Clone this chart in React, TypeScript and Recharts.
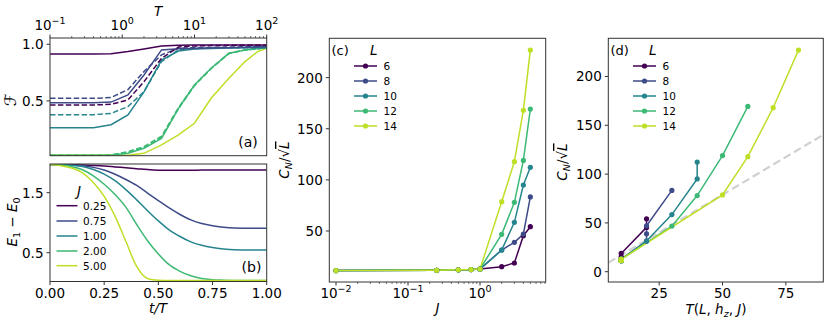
import React from 'react';
import { LineChart, Line, XAxis, YAxis } from 'recharts';

const FONT = '"DejaVu Sans", Verdana, sans-serif';
const AXIS_COLOR = '#333333';
const TICK_FS = 13.5;
const LEG_FS = 10.5;
const VIRIDIS = ['#440154', '#3e4b89', '#25848d', '#3cb975', '#bddf26'];

// ---------- Panel (a): fidelity F vs T (log) ----------
const A_T = [0.1, 0.4, 0.7, 1.2, 2, 3.5, 6, 10, 17, 30, 50, 75, 100];
const A_S025 = [0.915, 0.915, 0.916, 0.935, 0.958, 0.985, 0.992, 0.993, 0.993, 0.993, 0.993, 0.993, 0.993];
const A_D025 = [0.464, 0.464, 0.47, 0.509, 0.67, 0.876, 0.975, 0.985, 0.988, 0.99, 0.99, 0.99, 0.99];
const A_S075 = [0.485, 0.485, 0.49, 0.553, 0.729, 0.95, 0.96, 0.963, 0.966, 0.97, 0.974, 0.977, 0.98];
const A_D075 = [0.523, 0.523, 0.53, 0.6, 0.76, 0.906, 0.965, 0.97, 0.972, 0.975, 0.977, 0.978, 0.98];
const A_S100 = [0.264, 0.264, 0.29, 0.376, 0.58, 0.86, 0.94, 0.958, 0.963, 0.966, 0.968, 0.97, 0.97];
const A_D100 = [0.379, 0.379, 0.39, 0.45, 0.582, 0.847, 0.95, 0.963, 0.966, 0.968, 0.97, 0.97, 0.97];
const A_S200 = [0.02, 0.02, 0.022, 0.038, 0.082, 0.17, 0.435, 0.64, 0.788, 0.92, 0.95, 0.96, 0.97];
const A_D200 = [0.02, 0.02, 0.025, 0.053, 0.097, 0.19, 0.44, 0.64, 0.788, 0.92, 0.95, 0.96, 0.97];
const A_S500 = [0.02, 0.02, 0.02, 0.022, 0.038, 0.112, 0.2, 0.303, 0.524, 0.7, 0.847, 0.935, 0.965];
const A_D500 = [0.02, 0.02, 0.023, 0.045, 0.088, 0.178, 0.43, 0.635, 0.785, 0.918, 0.95, 0.96, 0.97];
const A_MAJOR = [0.1, 1, 10, 100];
const A_Y_TICKS = [0.5, 1.0];

// ---------- Panel (b): gap E1-E0 vs t/T ----------
const B_T = [0, 0.05, 0.1, 0.15, 0.2, 0.25, 0.3, 0.35, 0.4, 0.45, 0.5, 0.55, 0.6, 0.65, 0.7, 0.75, 0.8, 0.85, 0.9, 0.95, 1.0];
const B_J025 = [1.97, 1.97, 1.968, 1.963, 1.955, 1.945, 1.93, 1.915, 1.9, 1.885, 1.875, 1.872, 1.872, 1.874, 1.876, 1.877, 1.877, 1.877, 1.876, 1.876, 1.876];
const B_J075 = [1.97, 1.968, 1.962, 1.948, 1.922, 1.877, 1.807, 1.72, 1.62, 1.494, 1.368, 1.245, 1.137, 1.046, 0.985, 0.948, 0.925, 0.911, 0.908, 0.907, 0.906];
const B_J100 = [1.97, 1.967, 1.955, 1.935, 1.885, 1.81, 1.7, 1.55, 1.38, 1.2, 1.03, 0.88, 0.77, 0.68, 0.623, 0.585, 0.562, 0.548, 0.545, 0.544, 0.544];
const B_J200 = [1.97, 1.965, 1.935, 1.882, 1.78, 1.64, 1.47, 1.26, 0.97, 0.7, 0.48, 0.3, 0.19, 0.115, 0.07, 0.05, 0.042, 0.038, 0.036, 0.035, 0.035];
const B_J500 = [1.97, 1.95, 1.91, 1.83, 1.67, 1.44, 1.11, 0.69, 0.27, 0.07, 0.04, 0.035, 0.035, 0.035, 0.035, 0.035, 0.035, 0.035, 0.035, 0.035, 0.035];
const B_X_TICKS = [0, 0.25, 0.5, 0.75, 1.0];
const B_Y_TICKS = [0.5, 1.5];
const J_LABELS = ['0.25', '0.75', '1.00', '2.00', '5.00'];

// ---------- Panel (c): C_N/sqrt(L) vs J ----------
const C_J = [0.01, 0.25, 0.5, 0.75, 1, 2, 3, 4, 5];
const C_L6 = [11.3, 11.6, 12.0, 12.3, 12.8, 15.1, 18.7, 45.4, 54.2];
const C_L8 = [11.3, 11.6, 12.0, 12.3, 12.8, 31.4, 38.9, 47.0, 83.3];
const C_L10 = [11.3, 11.6, 12.0, 12.3, 12.8, 31.4, 58.5, 95.0, 112.3];
const C_L12 = [11.3, 11.6, 12.0, 12.3, 12.8, 46.7, 78.0, 119.0, 169.3];
const C_L14 = [11.3, 11.6, 12.0, 12.3, 12.8, 78.7, 117.8, 168.0, 227.0];
const C_MAJOR = [0.01, 0.1, 1];
const C_Y_TICKS = [50, 100, 150, 200];
const L_LABELS = ['6', '8', '10', '12', '14'];

// ---------- Panel (d): C_N/sqrt(L) vs T(L,hz,J) ----------
const D_T_L6 = [10, 10, 10, 10, 10, 10, 10, 20, 20];
const D_T_L8 = [10, 10, 10, 10, 10, 20, 20, 20, 30];
const D_T_L10 = [10, 10, 10, 10, 10, 20, 30, 40, 40];
const D_T_L12 = [10, 10, 10, 10, 10, 30, 40, 50, 60];
const D_T_L14 = [10, 10, 10, 10, 10, 50, 60, 70, 80];
const D_GUIDE_T = [4.9, 89.8];
const D_GUIDE_Y = [9.2, 140.3];
const D_X_TICKS = [25, 50, 75];
const D_Y_TICKS = [0, 50, 100, 150, 200];

// ---------- derived tables ----------
const aData = A_T.map((T, i) => ({
  T, s025: A_S025[i], d025: A_D025[i], s075: A_S075[i], d075: A_D075[i],
  s100: A_S100[i], d100: A_D100[i], s200: A_S200[i], d200: A_D200[i], s500: A_S500[i], d500: A_D500[i],
}));
const bData = B_T.map((t, i) => ({ t, j0: B_J025[i], j1: B_J075[i], j2: B_J100[i], j3: B_J200[i], j4: B_J500[i] }));
const cData = C_J.map((J, i) => ({ J, l0: C_L6[i], l1: C_L8[i], l2: C_L10[i], l3: C_L12[i], l4: C_L14[i] }));
const C_SERIES = [C_L6, C_L8, C_L10, C_L12, C_L14];
const D_TS = [D_T_L6, D_T_L8, D_T_L10, D_T_L12, D_T_L14];
const dSeries = D_TS.map((ts, k) => ts.map((T, i) => ({ T, v: C_SERIES[k][i] })));
const dGuide = D_GUIDE_T.map((T, i) => ({ T, v: D_GUIDE_Y[i] }));

const logTicks = (majors: number[], maxV: number) => {
  const out: number[] = [];
  majors.forEach((m) => {
    for (let k = 1; k <= 9; k++) {
      const v = +(m * k).toPrecision(6);
      if (v <= maxV) out.push(v);
    }
  });
  return out;
};
const A_TICKS = logTicks(A_MAJOR, 100);
const C_TICKS = logTicks(C_MAJOR, 8);

const supText = (e: number) => (e < 0 ? '\u2212' + Math.abs(e) : String(e));
const isMajorLog = (v: number) => {
  const lg = Math.log10(v);
  return Math.abs(lg - Math.round(lg)) < 1e-6;
};

const LogTick = (props: any) => {
  const { x, y, payload, orient } = props;
  const v = payload.value;
  const major = isMajorLog(v);
  const dir = orient === 'top' ? -1 : 1;
  const len = major ? 3.5 : 2;
  const e = Math.round(Math.log10(v));
  return (
    <g>
      <line x1={x} x2={x} y1={y} y2={y + dir * len} stroke={AXIS_COLOR} strokeWidth={major ? 1 : 0.7} />
      {major && (
        <text x={x} y={orient === 'top' ? y - 8 : y + 16.3} textAnchor="middle" fontFamily={FONT} fontSize={TICK_FS} fill="#000">
          10<tspan dy={-6} fontSize={9.5}>{supText(e)}</tspan>
        </text>
      )}
    </g>
  );
};

const BottomTick = (props: any) => {
  const { x, y, payload, fmt } = props;
  return (
    <g>
      <line x1={x} x2={x} y1={y} y2={y + 3.5} stroke={AXIS_COLOR} strokeWidth={1} />
      <text x={x} y={y + 16} textAnchor="middle" fontFamily={FONT} fontSize={TICK_FS} fill="#000">
        {fmt(payload.value)}
      </text>
    </g>
  );
};

const LeftTick = (props: any) => {
  const { x, y, payload, fmt } = props;
  return (
    <g>
      <line x1={x - 3.5} x2={x} y1={y} y2={y} stroke={AXIS_COLOR} strokeWidth={1} />
      <text x={x - 6.5} y={y + 4.9} textAnchor="end" fontFamily={FONT} fontSize={TICK_FS} fill="#000">
        {fmt(payload.value)}
      </text>
    </g>
  );
};

const f1 = (v: number) => v.toFixed(1);
const f2 = (v: number) => v.toFixed(2);
const f0 = (v: number) => String(Math.round(v));

const lineProps = { isAnimationActive: false, dot: false, strokeWidth: 1.5 } as const;
const DASH = '5.5 2.4';

const abs = (left: number, top: number): React.CSSProperties => ({ position: 'absolute', left, top });

const PanelA = () => (
  <div style={abs(0, 0)}>
    <LineChart width={290} height={160} data={aData} margin={{ top: 0, right: 23.3, bottom: 4.3, left: 0 }}>
      <XAxis dataKey="T" type="number" scale="log" domain={[0.1, 100]} allowDataOverflow orientation="top" height={38}
        ticks={A_TICKS} interval={0} tickSize={0} tickMargin={0} axisLine={false} tickLine={false}
        tick={(p: any) => <LogTick {...p} orient="top" />} />
      <YAxis type="number" domain={[0.017, 1.055]} allowDataOverflow width={50} ticks={A_Y_TICKS} interval={0}
        tickSize={0} tickMargin={0} axisLine={false} tickLine={false} tick={(p: any) => <LeftTick {...p} fmt={f1} />} />
      <Line {...lineProps} type="linear" dataKey="d500" stroke={VIRIDIS[3]} strokeDasharray={DASH} />
      <Line {...lineProps} type="linear" dataKey="d200" stroke={VIRIDIS[3]} strokeDasharray={DASH} />
      <Line {...lineProps} type="linear" dataKey="s500" stroke={VIRIDIS[4]} />
      <Line {...lineProps} type="linear" dataKey="s200" stroke={VIRIDIS[3]} />
      <Line {...lineProps} type="linear" dataKey="d100" stroke={VIRIDIS[2]} strokeDasharray={DASH} />
      <Line {...lineProps} type="linear" dataKey="s100" stroke={VIRIDIS[2]} />
      <Line {...lineProps} type="linear" dataKey="d075" stroke={VIRIDIS[1]} strokeDasharray={DASH} />
      <Line {...lineProps} type="linear" dataKey="s075" stroke={VIRIDIS[1]} />
      <Line {...lineProps} type="linear" dataKey="d025" stroke={VIRIDIS[0]} strokeDasharray={DASH} />
      <Line {...lineProps} type="linear" dataKey="s025" stroke={VIRIDIS[0]} />
    </LineChart>
  </div>
);

const PanelB = () => (
  <div style={abs(0, 160)}>
    <LineChart width={290} height={164} data={bData} margin={{ top: 4, right: 23.3, bottom: 0, left: 0 }}>
      <XAxis dataKey="t" type="number" domain={[0, 1]} allowDataOverflow height={42.5} ticks={B_X_TICKS} interval={0}
        tickSize={0} tickMargin={0} axisLine={false} tickLine={false} tick={(p: any) => <BottomTick {...p} fmt={f2} />} />
      <YAxis type="number" domain={[0.02, 1.978]} allowDataOverflow width={50} ticks={B_Y_TICKS} interval={0}
        tickSize={0} tickMargin={0} axisLine={false} tickLine={false} tick={(p: any) => <LeftTick {...p} fmt={f1} />} />
      {['j0', 'j1', 'j2', 'j3', 'j4'].map((k, i) => (
        <Line key={k} {...lineProps} type="monotone" dataKey={k} stroke={VIRIDIS[i]} />
      ))}
    </LineChart>
  </div>
);

const dotFor = (c: string) => ({ r: 2.6, fill: c, stroke: c, strokeWidth: 0 });

const PanelC = () => (
  <div style={abs(280, 0)}>
    <LineChart width={280} height={324} data={cData} margin={{ top: 38.3, right: 14.3, bottom: 0, left: 0 }}>
      <XAxis dataKey="J" type="number" scale="log" domain={[0.00807, 8.17]} allowDataOverflow height={42} ticks={C_TICKS}
        interval={0} tickSize={0} tickMargin={0} axisLine={false} tickLine={false}
        tick={(p: any) => <LogTick {...p} orient="bottom" />} />
      <YAxis type="number" domain={[0.1, 238.5]} allowDataOverflow width={49.3} ticks={C_Y_TICKS} interval={0}
        tickSize={0} tickMargin={0} axisLine={false} tickLine={false} tick={(p: any) => <LeftTick {...p} fmt={f0} />} />
      {['l0', 'l1', 'l2', 'l3', 'l4'].map((k, i) => (
        <Line key={k} isAnimationActive={false} type="linear" dataKey={k} stroke={VIRIDIS[i]} strokeWidth={1.5} dot={dotFor(VIRIDIS[i])} />
      ))}
    </LineChart>
  </div>
);

const PanelD = () => (
  <div style={abs(560, 0)}>
    <LineChart width={270} height={324} margin={{ top: 38.3, right: 6.7, bottom: 0, left: 0 }}>
      <XAxis dataKey="T" type="number" domain={[4.9, 89.8]} allowDataOverflow height={42} ticks={D_X_TICKS} interval={0}
        tickSize={0} tickMargin={0} axisLine={false} tickLine={false} tick={(p: any) => <BottomTick {...p} fmt={f0} />} />
      <YAxis type="number" domain={[-10.55, 239.1]} allowDataOverflow width={48.3} ticks={D_Y_TICKS} interval={0}
        tickSize={0} tickMargin={0} axisLine={false} tickLine={false} tick={(p: any) => <LeftTick {...p} fmt={f0} />} />
      <Line isAnimationActive={false} data={dGuide} type="linear" dataKey="v" stroke="#d0d0d0" strokeWidth={2.2}
        strokeDasharray="8 4" dot={false} />
      {dSeries.map((s, i) => (
        <Line key={i} data={s} isAnimationActive={false} type="linear" dataKey="v" stroke={VIRIDIS[i]} strokeWidth={1.5}
          dot={dotFor(VIRIDIS[i])} />
      ))}
    </LineChart>
  </div>
);

const T_ITAL: React.SVGProps<SVGTextElement> = { fontFamily: FONT, fontStyle: 'italic', fontSize: TICK_FS, fill: '#000' };
const T_NORM: React.SVGProps<SVGTextElement> = { fontFamily: FONT, fontSize: TICK_FS, fill: '#000' };

const Overlay = () => {
  const legY = [66, 81, 96, 111, 126];
  const bLegY = [205.7, 221, 236, 251, 265.7];
  return (
    <svg width={830} height={324} style={{ position: 'absolute', left: 0, top: 0, pointerEvents: 'none' }}>
      {/* frames */}
      <rect x={50} y={38} width={216.7} height={117.7} fill="none" stroke={AXIS_COLOR} strokeWidth={1} />
      <rect x={50} y={164} width={216.7} height={117.5} fill="none" stroke={AXIS_COLOR} strokeWidth={1} />
      <rect x={329.3} y={38.3} width={216.4} height={243.7} fill="none" stroke={AXIS_COLOR} strokeWidth={1} />
      <rect x={608.3} y={38.3} width={215} height={243.7} fill="none" stroke={AXIS_COLOR} strokeWidth={1} />

      {/* axis titles */}
      <text x={158} y={16} textAnchor="middle" {...T_ITAL}>T</text>
      <text x={16} y={100} textAnchor="middle" transform="rotate(-90 16 100)" {...T_NORM} fontSize={16}>ℱ</text>
      <text x={17} y={222} textAnchor="middle" transform="rotate(-90 17 222)" {...T_NORM}>
        <tspan fontStyle="italic">E</tspan><tspan dy={3} fontSize={9.5}>1</tspan><tspan dy={-3}> − </tspan>
        <tspan fontStyle="italic">E</tspan><tspan dy={3} fontSize={9.5}>0</tspan>
      </text>
      <text x={158} y={312.5} textAnchor="middle" {...T_ITAL}>t/T</text>
      <text x={437.5} y={313} textAnchor="middle" {...T_ITAL}>J</text>
      <text x={716} y={313.5} textAnchor="middle" {...T_ITAL}>
        T<tspan fontStyle="normal">(</tspan>L<tspan fontStyle="normal">, </tspan>h<tspan dy={3} fontSize={9.5}>z</tspan>
        <tspan dy={-3} fontStyle="normal">, </tspan>J<tspan fontStyle="normal">)</tspan>
      </text>
      {[{ x: 289, y: 160 }, { x: 567, y: 162 }].map((p, i) => (
        <text key={i} x={p.x} y={p.y} textAnchor="middle" transform={`rotate(-90 ${p.x} ${p.y})`} {...T_NORM}>
          <tspan fontStyle="italic">C</tspan><tspan dy={3} fontSize={9.5} fontStyle="italic">N</tspan>
          <tspan dy={-3}>/√</tspan><tspan fontStyle="italic" textDecoration="overline">L</tspan>
        </text>
      ))}

      {/* panel letters */}
      <text x={248} y={147} textAnchor="middle" {...T_NORM} fontSize={14}>(a)</text>
      <text x={251.5} y={272} textAnchor="middle" {...T_NORM} fontSize={14}>(b)</text>
      <text x={331.5} y={54.5} {...T_NORM} fontSize={13}>(c)</text>
      <text x={610.5} y={54.5} {...T_NORM} fontSize={13}>(d)</text>

      {/* legend (b) */}
      <text x={77} y={196} {...T_ITAL}>J</text>
      {J_LABELS.map((lab, i) => (
        <g key={lab}>
          <line x1={56.5} x2={77.5} y1={bLegY[i]} y2={bLegY[i]} stroke={VIRIDIS[i]} strokeWidth={1.5} />
          <text x={83} y={bLegY[i] + 3.8} fontFamily={FONT} fontSize={LEG_FS} fill="#000">{lab}</text>
        </g>
      ))}

      {/* legends (c), (d) */}
      {[{ x0: 354, t: 370 }, { x0: 633, t: 649 }].map((lg, j) => (
        <g key={j}>
          <text x={lg.t} y={54.5} {...T_ITAL}>L</text>
          {L_LABELS.map((lab, i) => (
            <g key={lab}>
              <line x1={lg.x0} x2={lg.x0 + 23} y1={legY[i]} y2={legY[i]} stroke={VIRIDIS[i]} strokeWidth={1.5} />
              <circle cx={lg.x0 + 11.5} cy={legY[i]} r={2.6} fill={VIRIDIS[i]} />
              <text x={lg.x0 + 29.5} y={legY[i] + 3.8} fontFamily={FONT} fontSize={LEG_FS} fill="#000">{lab}</text>
            </g>
          ))}
        </g>
      ))}
    </svg>
  );
};

export default function App() {
  return (
    <div style={{ position: 'absolute', left: 0, top: 0, width: 830, height: 324, background: '#fff', overflow: 'hidden' }}>
      <PanelA />
      <PanelB />
      <PanelC />
      <PanelD />
      <Overlay />
    </div>
  );
}
